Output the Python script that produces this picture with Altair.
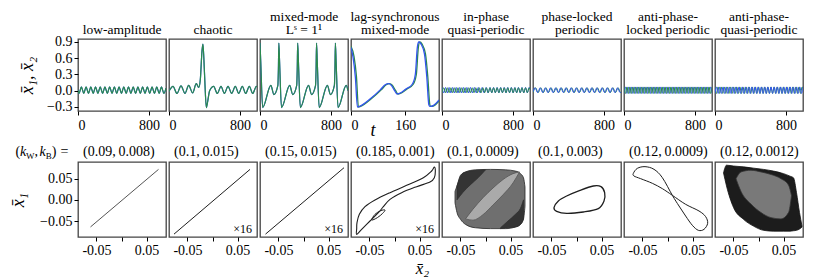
import altair as alt
import pandas as pd

FONT = "Liberation Serif"
GREEN = "#2b8a4b"
BLUE = "#3355ee"
INK = "#1e1e1e"
PW = 88
PH_TOP, PH_BOT = 72, 75

# ---------------- top row : time series (x1 green, x2 blue) ----------------
top_titles = [["low-amplitude"], ["chaotic"], ["mixed-mode", "Lˢ = 1¹"], ["lag-synchronous", "mixed-mode"],
              ["in-phase", "quasi-periodic"], ["phase-locked", "periodic"], ["anti-phase-", "locked periodic"],
              ["anti-phase-", "quasi-periodic"]]
top_y_dom = [-0.374, 0.955]
top_y_ticks = [-0.3, 0.0, 0.3, 0.6, 0.9]
long_t_dom = [0, 990]
long_t_ticks = [0, 800]
lag_t_dom = [0, 260]
lag_t_ticks = [0, 160]

low_t = [0, 12, 38, 65, 91, 118, 144, 171, 197, 224, 250, 277, 303, 330, 356, 383, 409, 436, 462, 489,
         515, 542, 568, 595, 621, 648, 674, 701, 727, 754, 780, 807, 833, 860, 886, 913, 939, 966, 990]
low_v = [0.01, -0.05, 0.07, -0.05, 0.07, -0.05, 0.07, -0.05, 0.07, -0.05, 0.07, -0.05, 0.07, -0.05, 0.07,
         -0.05, 0.07, -0.05, 0.07, -0.05, 0.07, -0.05, 0.07, -0.05, 0.07, -0.05, 0.07, -0.05, 0.07, -0.05,
         0.07, -0.05, 0.07, -0.05, 0.07, -0.05, 0.07, -0.05, 0.05]

chaos_t = [0, 45, 90, 135, 180, 221, 266, 307, 334, 352, 372, 382, 392, 405, 420, 435, 457,
           502, 544, 585, 623, 664, 705, 746, 784, 825, 862, 904, 941, 983, 990]
chaos_v = [-0.01, 0.08, -0.05, 0.09, -0.05, 0.10, -0.04, 0.13, 0.06, 0.20, 0.75, 0.86, 0.60, 0.10, -0.31, -0.20, 0.0,
           0.08, -0.05, 0.08, -0.05, 0.08, -0.05, 0.08, -0.05, 0.08, -0.05, 0.08, -0.05, 0.08, 0.07]

mmo_t = [0, 8, 30, 122, 156, 201, 207, 212, 220, 242, 334, 368, 413, 419, 424, 432, 454, 546, 580, 625, 631,
         636, 644, 666, 758, 792, 837, 843, 848, 856, 878, 970, 990]
mmo_v = [0.88, 0.55, -0.31, 0.10, -0.07, 0.10, 0.40, 0.88, 0.55, -0.31, 0.10, -0.07, 0.10, 0.40,
         0.88, 0.55, -0.31, 0.10, -0.07, 0.10, 0.40, 0.88, 0.55, -0.31, 0.10, -0.07, 0.10, 0.40,
         0.88, 0.55, -0.31, 0.10, 0.0]

lag_green_t = [0, 9, 16, 22, 28, 60, 90, 104, 114, 122, 132, 139, 146, 165, 184, 193, 199, 203, 210, 220,
               227, 233, 236, 247, 260]
lag_green_v = [0.82, 0.63, 0.27, -0.30, -0.29, -0.15, 0.02, 0.11, 0.13, 0.10, 0.0, -0.06, -0.05, 0.03, 0.12,
               0.30, 0.80, 0.90, 0.86, 0.68, 0.25, -0.26, -0.29, -0.27, -0.19]
lag_blue_t = [0, 6, 13, 19, 25, 57, 87, 101, 111, 119, 129, 136, 143, 162, 181, 190, 196, 200, 207, 217,
              224, 230, 233, 244, 260]
lag_blue_v = [0.80, 0.62, 0.24, -0.30, -0.29, -0.15, 0.02, 0.11, 0.13, 0.10, 0.0, -0.06, -0.05, 0.03, 0.12,
              0.30, 0.80, 0.90, 0.86, 0.68, 0.25, -0.26, -0.29, -0.27, -0.17]

ipq_green_t = [0, 20, 40, 60, 80, 100, 120, 140, 160, 180, 200, 220, 240, 260, 280, 300, 320, 340, 360, 380,
               400, 420, 440, 460, 480, 500, 520, 540, 560, 580, 600, 620, 640, 660, 680, 700, 720, 740, 760,
               780, 800, 820, 840, 860, 880, 900, 920, 940, 960, 980, 990]
ipq_green_v = [-0.035, 0.055, -0.035, 0.055, -0.035, 0.055, -0.035, 0.055, -0.035, 0.055,
               -0.035, 0.055, -0.035, 0.055, -0.035, 0.055, -0.035, 0.055, -0.035, 0.055,
               -0.035, 0.055, -0.035, 0.055, -0.035, 0.055, -0.035, 0.055, -0.035, 0.055,
               -0.035, 0.055, -0.035, 0.055, -0.035, 0.055, -0.035, 0.055, -0.035, 0.055,
               -0.035, 0.055, -0.035, 0.055, -0.035, 0.055, -0.035, 0.055, -0.035, 0.055, 0.02]
ipq_blue_t = [0, 20, 40, 60, 80, 100, 120, 140, 160, 180, 200, 220, 240, 260, 280, 300, 320,
              342, 364, 386, 408, 430, 452, 474, 496, 518, 540,
              560, 580, 600, 620, 640, 660, 680, 700, 720, 740, 760, 780, 800, 820, 840, 860, 880, 900,
              920, 940, 960, 980, 990]
ipq_blue_v = [0.06, -0.04, 0.06, -0.04, 0.06, -0.04, 0.06, -0.04, 0.06, -0.04,
              0.06, -0.04, 0.06, -0.04, 0.06, -0.04, 0.06, -0.04, 0.06, -0.04,
              0.06, -0.04, 0.06, -0.04, 0.06, -0.04, 0.06, -0.04, 0.06, -0.04,
              0.06, -0.04, 0.06, -0.04, 0.06, -0.04, 0.06, -0.04, 0.06, -0.04,
              0.06, -0.04, 0.06, -0.04, 0.06, -0.04, 0.06, -0.04, 0.06, 0.03]

plp_green_t = [0, 29, 58, 87, 116, 145, 174, 203, 232, 261, 290, 319, 348, 377, 406, 435, 464, 493, 522,
               551, 580, 609, 638, 667, 696, 725, 754, 783, 812, 841, 870, 899, 928, 957, 986, 990]
plp_green_v = [-0.035, 0.055, -0.035, 0.055, -0.035, 0.055, -0.035, 0.055, -0.035, 0.055,
               -0.035, 0.055, -0.035, 0.055, -0.035, 0.055, -0.035, 0.055, -0.035, 0.055,
               -0.035, 0.055, -0.035, 0.055, -0.035, 0.055, -0.035, 0.055, -0.035, 0.055,
               -0.035, 0.055, -0.035, 0.055, -0.035, -0.03]
plp_blue_t = [0, 23, 52, 81, 110, 139, 168, 197, 226, 255, 284, 313, 342, 371, 400, 429, 458, 487, 516,
              545, 574, 603, 632, 661, 690, 719, 748, 777, 806, 835, 864, 893, 922, 951, 980, 990]
plp_blue_v = [-0.02, 0.055, -0.035, 0.055, -0.035, 0.055, -0.035, 0.055, -0.035, 0.055,
              -0.035, 0.055, -0.035, 0.055, -0.035, 0.055, -0.035, 0.055, -0.035, 0.055,
              -0.035, 0.055, -0.035, 0.055, -0.035, 0.055, -0.035, 0.055, -0.035, 0.055,
              -0.035, 0.055, -0.035, 0.055, -0.035, -0.025]

apl_t = [0, 16.5, 33, 49.5, 66, 82.5, 99, 115.5, 132, 148.5, 165, 181.5, 198, 214.5, 231, 247.5, 264,
         280.5, 297, 313.5, 330, 346.5, 363, 379.5, 396, 412.5, 429, 445.5, 462, 478.5, 495, 511.5, 528,
         544.5, 561, 577.5, 594, 610.5, 627, 643.5, 660, 676.5, 693, 709.5, 726, 742.5, 759, 775.5, 792,
         808.5, 825, 841.5, 858, 874.5, 891, 907.5, 924, 940.5, 957, 973.5, 990]
apl_green_v = [0.07, -0.05, 0.07, -0.05, 0.07, -0.05, 0.07, -0.05, 0.07, -0.05,
               0.07, -0.05, 0.07, -0.05, 0.07, -0.05, 0.07, -0.05, 0.07, -0.05,
               0.07, -0.05, 0.07, -0.05, 0.07, -0.05, 0.07, -0.05, 0.07, -0.05,
               0.07, -0.05, 0.07, -0.05, 0.07, -0.05, 0.07, -0.05, 0.07, -0.05,
               0.07, -0.05, 0.07, -0.05, 0.07, -0.05, 0.07, -0.05, 0.07, -0.05,
               0.07, -0.05, 0.07, -0.05, 0.07, -0.05, 0.07, -0.05, 0.07, -0.05, 0.07]
apl_blue_v = [-0.05, 0.07, -0.05, 0.07, -0.05, 0.07, -0.05, 0.07, -0.05, 0.07,
              -0.05, 0.07, -0.05, 0.07, -0.05, 0.07, -0.05, 0.07, -0.05, 0.07,
              -0.05, 0.07, -0.05, 0.07, -0.05, 0.07, -0.05, 0.07, -0.05, 0.07,
              -0.05, 0.07, -0.05, 0.07, -0.05, 0.07, -0.05, 0.07, -0.05, 0.07,
              -0.05, 0.07, -0.05, 0.07, -0.05, 0.07, -0.05, 0.07, -0.05, 0.07,
              -0.05, 0.07, -0.05, 0.07, -0.05, 0.07, -0.05, 0.07, -0.05, 0.07, -0.05]

apq_green_t = [0, 17.5, 35, 52.5, 70, 87.5, 105, 122.5, 140, 157.5, 175, 192.5, 210, 227.5, 245, 262.5, 280,
               297.5, 315, 332.5, 350, 367.5, 385, 402.5, 420, 437.5, 455, 472.5, 490, 507.5, 525, 542.5,
               560, 577.5, 595, 612.5, 630, 647.5, 665, 682.5, 700, 717.5, 735, 752.5, 770, 787.5, 805,
               822.5, 840, 857.5, 875, 892.5, 910, 927.5, 945, 962.5, 980, 990]
apq_green_v = [0.07, -0.05, 0.07, -0.05, 0.07, -0.05, 0.07, -0.05, 0.07, -0.05,
               0.07, -0.05, 0.07, -0.05, 0.07, -0.05, 0.07, -0.05, 0.07, -0.05,
               0.07, -0.05, 0.07, -0.05, 0.07, -0.05, 0.07, -0.05, 0.07, -0.05,
               0.07, -0.05, 0.07, -0.05, 0.07, -0.05, 0.07, -0.05, 0.07, -0.05,
               0.07, -0.05, 0.07, -0.05, 0.07, -0.05, 0.07, -0.05, 0.07, -0.05,
               0.07, -0.05, 0.07, -0.05, 0.07, -0.05, 0.07, 0.04]
apq_blue_t = [0, 18, 36, 54, 72, 90, 108, 126, 144, 162, 180, 198, 216, 234, 252, 270, 288, 306, 324, 342,
              360, 378, 396, 414, 432, 450, 468, 486, 504, 522, 540, 558, 576, 594, 612, 630, 648, 666, 684,
              702, 720, 738, 756, 774, 792, 810, 828, 846, 864, 882, 900, 918, 936, 954, 972, 990]
apq_blue_v = [-0.05, 0.07, -0.05, 0.07, -0.05, 0.07, -0.05, 0.07, -0.05, 0.07,
              -0.05, 0.07, -0.05, 0.07, -0.05, 0.07, -0.05, 0.07, -0.05, 0.07,
              -0.05, 0.07, -0.05, 0.07, -0.05, 0.07, -0.05, 0.07, -0.05, 0.07,
              -0.05, 0.07, -0.05, 0.07, -0.05, 0.07, -0.05, 0.07, -0.05, 0.07,
              -0.05, 0.07, -0.05, 0.07, -0.05, 0.07, -0.05, 0.07, -0.05, 0.07,
              -0.05, 0.07, -0.05, 0.07, -0.05, 0.07]

# ---------------- bottom row : phase portraits (x1 vs x2) ----------------
bot_titles = ["(0.09,\u20090.008)", "(0.1,\u20090.015)", "(0.15,\u20090.015)", "(0.185,\u20090.001)",
              "(0.1,\u20090.0009)", "(0.1,\u20090.003)", "(0.12,\u20090.0009)", "(0.12,\u20090.0012)"]
bot_x_dom = [-0.087, 0.089]
bot_y_dom = [-0.0878, 0.0895]
bot_ticks = [-0.05, 0.0, 0.05]

pp1_x = [-0.062, 0.074]
pp1_y = [-0.064, 0.072]
pp2_x = [-0.077, 0.075]
pp2_y = [-0.081, 0.072]
pp3_x = [-0.076, 0.081]
pp3_y = [-0.081, 0.076]

pp4_loop_x = [-0.0757, -0.0756, -0.075, -0.0703, -0.059, -0.039, -0.009, 0.0243, 0.0577, 0.0743, 0.0797, 0.0817,
              0.0797, 0.071, 0.0443, 0.0143, -0.009, -0.0223, -0.0323, -0.049, -0.0657]
pp4_loop_y = [-0.0815, -0.068, -0.0539, -0.0342, -0.0161, -0.0003, 0.017, 0.0343, 0.0525, 0.0682, 0.0777, 0.0682,
              0.0525, 0.0422, 0.0312, 0.017, 0.0012, -0.0161, -0.0303, -0.05, -0.0697]
pp4_small_x = [-0.0457, -0.039, -0.0277, -0.019, -0.0237, -0.0343]
pp4_small_y = [-0.0476, -0.0342, -0.0256, -0.024, -0.0319, -0.0421]

pp5_x = [-0.061, -0.057, -0.050, -0.040, -0.020, 0.010, 0.040, 0.060, 0.070, 0.076, 0.079]
pp5_up = [0.020, 0.033, 0.058, 0.066, 0.071, 0.072, 0.071, 0.068, 0.062, 0.052, 0.030]
pp5_lo = [-0.007, -0.030, -0.046, -0.058, -0.066, -0.068, -0.068, -0.064, -0.058, -0.045, -0.015]
pp5_tl_x = [-0.057, -0.045, -0.030, -0.015, 0.000]
pp5_tl_up = [0.033, 0.063, 0.068, 0.070, 0.071]
pp5_tl_lo = [0.000, 0.018, 0.036, 0.052, 0.071]
pp5_br_x = [0.030, 0.045, 0.060, 0.070, 0.076]
pp5_br_up = [-0.066, -0.050, -0.034, -0.020, 0.000]
pp5_br_lo = [-0.068, -0.066, -0.064, -0.058, -0.045]
pp5_lens_x = [-0.040, -0.025, -0.005, 0.015, 0.035, 0.055, 0.068]
pp5_lens_up = [-0.045, -0.022, 0.005, 0.028, 0.048, 0.062, 0.066]
pp5_lens_lo = [-0.045, -0.048, -0.035, -0.012, 0.012, 0.040, 0.066]

pp6_x = [-0.045, -0.0363, -0.0197, 0.007, 0.0337, 0.049, 0.0563, 0.055, 0.0437, 0.0137, -0.0197, -0.0397]
pp6_y = [-0.0185, -0.0027, 0.0091, 0.0225, 0.0328, 0.0312, 0.017, -0.0027, -0.0208, -0.0287, -0.0319, -0.0271]

pp7_x = [0.0097, -0.0103, -0.0303, -0.0537, -0.067, -0.0683, -0.0603, -0.045, -0.027, -0.0103, 0.0097,
         0.023, 0.0363, 0.0497, 0.0617, 0.073, 0.0803, 0.0763, 0.063, 0.0363]
pp7_y = [0.0107, 0.0265, 0.0391, 0.0501, 0.0564, 0.0627, 0.0745, 0.0785, 0.0722, 0.0525, 0.0107,
         -0.0145, -0.0382, -0.0602, -0.0720, -0.0697, -0.0555, -0.0397, -0.0263, -0.0106]

pp8_x = [-0.070, -0.064, -0.050, -0.030, -0.010, 0.010, 0.030, 0.050, 0.063, 0.070, 0.076, 0.082, 0.087]
pp8_up = [0.064, 0.082, 0.080, 0.078, 0.075, 0.072, 0.068, 0.062, 0.056, 0.052, 0.017, -0.030, -0.062]
pp8_lo = [0.064, 0.033, -0.018, -0.046, -0.062, -0.072, -0.074, -0.074, -0.074, -0.073, -0.072, -0.069, -0.064]
pp8_core_x = [-0.045, -0.035, -0.015, 0.005, 0.025, 0.045, 0.060, 0.066]
pp8_core_up = [0.050, 0.066, 0.070, 0.066, 0.060, 0.050, 0.035, 0.010]
pp8_core_lo = [0.050, 0.020, -0.010, -0.030, -0.042, -0.045, -0.030, 0.010]


def text_piece(txt, px, py, size=14, style="normal", align="left", baseline="alphabetic"):
    return alt.Chart(pd.DataFrame({"a": [0]})).mark_text(
        x=px, y=py, align=align, baseline=baseline, fontSize=size, font=FONT, fontStyle=style, color="black"
    ).encode(text=alt.value(txt))


def top_title_layers(lines):
    if len(lines) == 1:
        return [text_piece(lines[0], PW / 2, -5, size=13.5, align="center")]
    return [text_piece(lines[0], PW / 2, -18.5, size=13.5, align="center"),
            text_piece(lines[1], PW / 2, -5, size=13.5, align="center")]


def top_panel(series, title, t_dom, t_ticks, first=False, t_title=None):
    xa = dict(values=t_ticks, format="d", labelPadding=3, tickSize=4)
    if t_title:
        xa.update(title=t_title, titleX=21.5, titleY=19, titleAlign="center", titleBaseline="middle",
                  titleFontStyle="italic", titleFontSize=18)
    else:
        xa["title"] = None
    x = alt.X("t:Q", scale=alt.Scale(domain=t_dom, nice=False, zero=False), axis=alt.Axis(**xa))
    ys = alt.Scale(domain=top_y_dom, nice=False, zero=False)
    if first:
        y = alt.Y("v:Q", scale=ys, axis=alt.Axis(values=top_y_ticks, format=".1f", labelPadding=2, tickSize=4,
                                                 title="x̄₁, x̄₂", titleX=-51, titleY=PH_TOP / 2, titleAngle=-90,
                                                 titleAlign="center", titleBaseline="middle",
                                                 titleFontStyle="italic", titleFontSize=18))
    else:
        y = alt.Y("v:Q", scale=ys, axis=None)
    layers = []
    for t, v, color, w in series:
        df = pd.DataFrame({"t": t, "v": v})
        df["i"] = range(len(df))
        layers.append(alt.Chart(df).mark_line(color=color, strokeWidth=w, interpolate="monotone", clip=True)
                      .encode(x=x, y=y, order="i:Q"))
    layers += top_title_layers(title)
    return alt.layer(*layers).properties(width=PW, height=PH_TOP)


def bot_panel(parts, title, first=False, x_title=None, mag=False, prefix=False):
    xa = dict(values=bot_ticks, tickSize=4, labelPadding=2,
              labelExpr="datum.value == 0 ? '' : (datum.value < 0 ? '-' + format(-datum.value, '.2f') : format(datum.value, '.2f'))")
    if x_title:
        xa.update(title=x_title, titleX=71, titleY=31, titleAlign="center", titleBaseline="middle",
                  titleFontStyle="italic", titleFontSize=17)
    else:
        xa["title"] = None
    x = alt.X("x:Q", scale=alt.Scale(domain=bot_x_dom, nice=False, zero=False), axis=alt.Axis(**xa))
    ys = alt.Scale(domain=bot_y_dom, nice=False, zero=False)
    if first:
        y = alt.Y("y:Q", scale=ys, axis=alt.Axis(values=bot_ticks, format=".2f", labelPadding=2, tickSize=4,
                                                 title="x̄₁", titleX=-60, titleY=PH_BOT / 2, titleAngle=-90,
                                                 titleAlign="center", titleBaseline="middle",
                                                 titleFontStyle="italic", titleFontSize=18))
    else:
        y = alt.Y("y:Q", scale=ys, axis=None)
    layers = []
    for p in parts:
        if p[0] == "line":
            _, xs, yv, color, w, interp = p
            df = pd.DataFrame({"x": xs, "y": yv})
            df["i"] = range(len(df))
            layers.append(alt.Chart(df).mark_line(color=color, strokeWidth=w, interpolate=interp, clip=True)
                          .encode(x=x, y=y, order="i:Q"))
        else:
            _, xs, up, lo, fill, stroke, op = p
            df = pd.DataFrame({"x": xs, "y": up, "y2": lo})
            layers.append(alt.Chart(df).mark_area(fill=fill, fillOpacity=op, stroke=stroke, strokeWidth=0.8,
                                                  interpolate="monotone", clip=True)
                          .encode(x=x, y=y, y2=alt.Y2("y2:Q")))
    if mag:
        layers.append(text_piece("×16", PW - 5, PH_BOT - 4, size=12, align="right"))
    layers.append(text_piece(title, 5, -6.5))
    if prefix:
        layers += [
            text_piece("(", -62.5, -6.5),
            text_piece("k", -58, -6.5, style="italic"),
            text_piece("W", -52, -3.5, size=9),
            text_piece(",", -43.5, -6.5),
            text_piece("k", -38.5, -6.5, style="italic"),
            text_piece("B", -32.2, -3.5, size=9),
            text_piece(")", -26.2, -6.5),
            text_piece("=", -17.5, -6.5),
        ]
    return alt.layer(*layers).properties(width=PW, height=PH_BOT)


top = [
    top_panel([(low_t, low_v, BLUE, 1.2), (low_t, low_v, GREEN, 1.2)], top_titles[0], long_t_dom, long_t_ticks, first=True),
    top_panel([(chaos_t, chaos_v, BLUE, 1.2), (chaos_t, chaos_v, GREEN, 1.2)], top_titles[1], long_t_dom, long_t_ticks),
    top_panel([(mmo_t, mmo_v, BLUE, 1.2), (mmo_t, mmo_v, GREEN, 1.2)], top_titles[2], long_t_dom, long_t_ticks),
    top_panel([(lag_green_t, lag_green_v, GREEN, 1.3), (lag_blue_t, lag_blue_v, BLUE, 1.3)], top_titles[3],
              lag_t_dom, lag_t_ticks, t_title="t"),
    top_panel([(ipq_blue_t, ipq_blue_v, BLUE, 1.0), (ipq_green_t, ipq_green_v, GREEN, 1.0)], top_titles[4], long_t_dom, long_t_ticks),
    top_panel([(plp_green_t, plp_green_v, GREEN, 1.0), (plp_blue_t, plp_blue_v, BLUE, 1.0)], top_titles[5], long_t_dom, long_t_ticks),
    top_panel([(apl_t, apl_blue_v, BLUE, 1.0), (apl_t, apl_green_v, GREEN, 1.0)], top_titles[6], long_t_dom, long_t_ticks),
    top_panel([(apq_green_t, apq_green_v, GREEN, 1.0), (apq_blue_t, apq_blue_v, BLUE, 1.0)], top_titles[7], long_t_dom, long_t_ticks),
]

bottom = [
    bot_panel([("line", pp1_x, pp1_y, "#555555", 1.0, "linear")], bot_titles[0], first=True, prefix=True),
    bot_panel([("line", pp2_x, pp2_y, INK, 1.0, "linear")], bot_titles[1], mag=True),
    bot_panel([("line", pp3_x, pp3_y, INK, 1.0, "linear")], bot_titles[2], mag=True),
    bot_panel([("line", pp4_loop_x, pp4_loop_y, INK, 1.1, "cardinal-closed"),
               ("line", pp4_small_x, pp4_small_y, INK, 1.0, "cardinal-closed")], bot_titles[3], mag=True, x_title="x̄₂"),
    bot_panel([("area", pp5_x, pp5_up, pp5_lo, "#6f6f6f", "#262626", 1.0),
               ("area", pp5_tl_x, pp5_tl_up, pp5_tl_lo, "#2e2e2e", "#2e2e2e", 0.9),
               ("area", pp5_br_x, pp5_br_up, pp5_br_lo, "#2e2e2e", "#2e2e2e", 0.9),
               ("area", pp5_lens_x, pp5_lens_up, pp5_lens_lo, "#b5b5b5", "#555555", 0.85)], bot_titles[4]),
    bot_panel([("line", pp6_x, pp6_y, INK, 1.3, "cardinal-closed")], bot_titles[5]),
    bot_panel([("line", pp7_x, pp7_y, INK, 1.0, "cardinal-closed")], bot_titles[6]),
    bot_panel([("area", pp8_x, pp8_up, pp8_lo, "#1c1c1c", "#111111", 1.0),
               ("area", pp8_core_x, pp8_core_up, pp8_core_lo, "#8a8a8a", "#333333", 0.85)], bot_titles[7]),
]

chart = alt.concat(*top, *bottom, columns=8, spacing=alt.RowColnumber(row=51, column=3), bounds="flush").properties(
    padding={"left": 0, "top": 0, "right": 4, "bottom": 0}
).configure_view(stroke="#444444", strokeWidth=1.3).configure_axis(
    labelFont=FONT, labelFontSize=14, labelColor="black", tickColor="black", tickSize=4,
    domain=False, grid=False, titleFont=FONT, titleColor="black", titleFontWeight="normal"
)

chart.save("out.html", embed_options={"renderer": "svg", "actions": False})
